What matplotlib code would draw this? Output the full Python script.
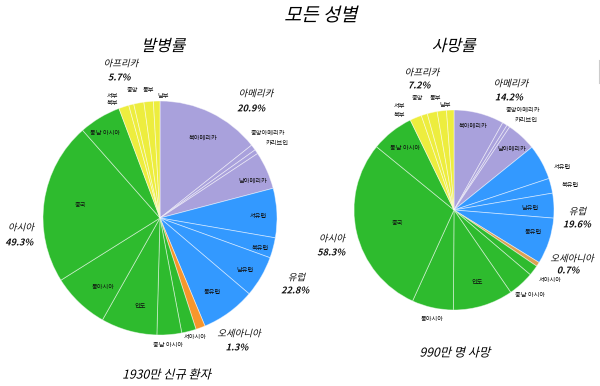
import matplotlib
matplotlib.use("Agg")
import matplotlib.pyplot as plt
from matplotlib.textpath import TextPath
from matplotlib.font_manager import FontProperties
from matplotlib.patches import PathPatch
from matplotlib.transforms import Affine2D
from matplotlib.lines import Line2D

plt.rcParams['font.family'] = ['Noto Sans CJK KR', 'DejaVu Sans']

# ---------------- data ----------------
sub_labels = ['북아메리카', '중앙아메리카', '카리브인', '남아메리카',
              '서유럽', '북유럽', '남유럽', '동유럽',
              '오세아니아',
              '서아시아', '중남 아시아', '인도', '동아시아', '중국', '동남 아시아',
              '북부', '서부', '중앙', '동부', '남부']
groups = ['아메리카'] * 4 + ['유럽'] * 4 + ['오세아니아'] + ['아시아'] * 6 + ['아프리카'] * 5

incidence = [14.3, 0.8, 0.6, 5.2,
             6.8, 2.8, 5.7, 7.5,
             1.3,
             2.0, 3.4, 7.75, 7.9, 22.4, 5.8,
             1.4, 0.7, 1.4, 1.3, 0.9]
mortality = [8.1, 0.8, 0.5, 4.8,
             5.7, 2.4, 4.0, 7.5,
             0.7,
             1.7, 4.2, 9.7, 6.7, 29.1, 6.9,
             1.9, 1.0, 1.6, 1.5, 1.2]

region_names = ['아메리카', '유럽', '오세아니아', '아시아', '아프리카']
inc_region_pct = ['20.9%', '22.8%', '1.3%', '49.3%', '5.7%']
mort_region_pct = ['14.2%', '19.6%', '0.7%', '58.3%', '7.2%']

title = '모든 성별'
subtitles = ['발병률', '사망률']
totals = ['1930만 신규 환자', '990만 명 사망']

# ---------------- style / layout ----------------
W, H = 600, 386
group_colors = {'아메리카': '#A9A1DC', '유럽': '#3399FF', '아시아': '#2EBB2E',
                '아프리카': '#EDED3E'}
oceania_colors = ['#F7962C', '#DCA052']

fig = plt.figure(figsize=(6, 3.86), dpi=100)

def px_axes(cx, cy, r):
    return fig.add_axes([(cx - r) / W, (H - cy - r) / H, 2 * r / W, 2 * r / H])

def itext(px, py, s, size, weight='normal', color='black', slant=14):
    fp = FontProperties(family='Noto Sans CJK KR', weight=weight)
    tp = TextPath((0, 0), s, size=size, prop=fp)
    bb = tp.get_extents()
    tr = (Affine2D().translate(-(bb.x0 + bb.x1) / 2, -(bb.y0 + bb.y1) / 2)
          .skew_deg(slant, 0).scale(1 / 72)
          .translate(px / 100, (H - py) / 100) + fig.dpi_scale_trans)
    fig.add_artist(PathPatch(tp, transform=tr, fc=color, ec='none', lw=0))

def ftext(px, py, s, size=4.5, **kw):
    fig.text(px / W, 1 - py / H, s, ha='center', va='center', fontsize=size,
             color='#111111', **kw)

pies = [
    dict(values=incidence, center=(160, 218), r=117, oce=oceania_colors[0],
         pct=inc_region_pct,
         sub_pos={'북아메리카': (203, 138), '중앙아메리카': (268, 133), '카리브인': (277, 143),
                  '남아메리카': (253, 181), '서유럽': (258, 216), '북유럽': (260, 248),
                  '남유럽': (245, 270), '동유럽': (212, 292), '서아시아': (195, 337),
                  '중남 아시아': (168, 345), '인도': (140, 306), '동아시아': (103, 287),
                  '중국': (80, 205), '동남 아시아': (105, 133), '서부': (112, 96),
                  '북부': (112, 103), '중앙': (132, 90), '동부': (148, 90), '남부': (163, 96)},
         reg_pos=[((257, 93), (252, 108)), ((297, 277), (296, 290)),
                  ((240, 333), (238, 347)), ((22, 227), (20, 242)),
                  ((122, 63), (120, 77))],
         sub_title=(165, 45), total=(168, 374)),
    dict(values=mortality, center=(454, 210), r=100, oce=oceania_colors[1],
         pct=mort_region_pct,
         sub_pos={'북아메리카': (473, 126), '중앙아메리카': (523, 110), '카리브인': (526, 120),
                  '남아메리카': (512, 149), '서유럽': (562, 167), '북유럽': (570, 185),
                  '남유럽': (530, 208), '동유럽': (533, 232), '서아시아': (550, 280),
                  '중남 아시아': (530, 295), '인도': (477, 282), '동아시아': (432, 319),
                  '중국': (397, 223), '동남 아시아': (405, 148), '서부': (399, 106),
                  '북부': (399, 115), '중앙': (417, 98), '동부': (435, 98), '남부': (445, 105)},
         reg_pos=[((512, 83), (510, 97)), ((578, 211), (578, 224)),
                  ((573, 258), (569, 270)), ((333, 238), (332, 252)),
                  ((423, 72), (420, 85))],
         sub_title=(455, 45), total=(456, 352)),
]

for i, p in enumerate(pies):
    ax = px_axes(p['center'][0], p['center'][1], p['r'])
    cols = [group_colors.get(g, p['oce']) for g in groups]
    ax.pie(p['values'], colors=cols, startangle=90, counterclock=False,
           wedgeprops=dict(edgecolor=(1, 1, 1, 0.5), linewidth=0.6))
    ax.set_xlim(-1, 1)
    ax.set_ylim(-1, 1)
    ax.set_aspect('equal')
    ax.axis('off')
    for lab in sub_labels:
        if lab in p['sub_pos']:
            x, y = p['sub_pos'][lab]
            ftext(x, y, lab)
    for name, pct, (p1, p2) in zip(region_names, p['pct'], p['reg_pos']):
        itext(p1[0], p1[1], name, 6.8, color='#111111')
        itext(p2[0], p2[1], pct, 6.6, weight='bold', color='#111111')
    itext(p['sub_title'][0], p['sub_title'][1], subtitles[i], 11.5)
    itext(p['total'][0], p['total'][1], totals[i], 8.8)

itext(322, 14, title, 13.5)

fig.add_artist(Line2D([598.5 / W] * 2, [1 - 60 / H, 1 - 83 / H], color='#cccccc', lw=0.8))

fig.savefig('out.png', dpi=100)
